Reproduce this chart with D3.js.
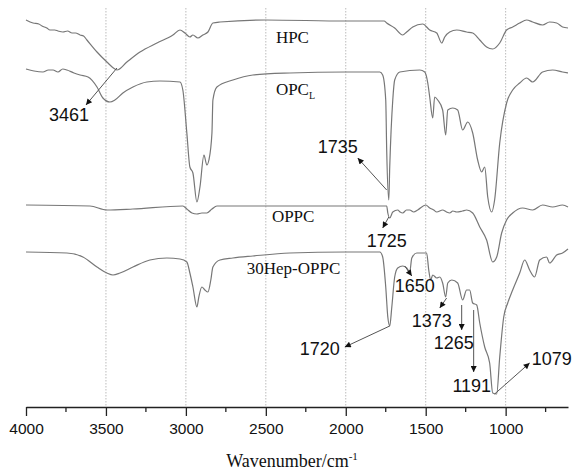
<!DOCTYPE html>
<html>
<head>
<meta charset="utf-8">
<script src="https://cdn.jsdelivr.net/npm/d3@7"></script>
<style>
  body { margin: 0; background: #fff; }
</style>
</head>
<body>
<div id="chart-container"></div>
<script>
// Spectra: [wavenumber (cm-1), stacked transmittance (a.u.)]
const hpc = [[4000,387],[3956,384],[3920,383],[3900,381],[3870,379],[3850,377],[3820,377],[3800,376],[3769,375],[3740,376],[3712,374],[3690,374],[3662,372],[3640,371],[3619,367],[3556,355],[3494,345],[3444,338],[3431,337],[3369,345],[3287,355],[3181,364],[3081,372],[3037,377],[3006,374],[2975,370],[2956,372],[2925,369],[2894,372],[2862,375],[2831,384],[2787,385],[2500,387],[2000,386],[1760,386],[1744,384],[1694,379],[1644,372],[1619,375],[1581,380],[1519,383],[1475,377],[1431,374],[1400,364],[1381,370],[1350,375],[1306,377],[1244,375],[1206,374],[1162,367],[1119,360],[1081,358],[1037,364],[994,377],[956,380],[912,384],[869,387],[831,385],[769,382],[725,385],[681,384],[644,380],[610,379]];

const opcL = [[4000,338],[3950,336],[3894,335],[3860,337],[3831,337],[3800,335],[3770,338],[3744,337],[3700,334],[3662,332],[3612,330],[3556,320],[3519,309],[3475,305],[3444,307],[3394,314],[3331,320],[3244,325],[3162,326],[3037,325],[3019,317],[2994,274],[2975,240],[2956,234],[2931,205],[2912,220],[2887,252],[2869,242],[2856,247],[2837,274],[2831,307],[2806,320],[2706,327],[2581,332],[2350,334],[2000,335],[1787,335],[1769,332],[1750,307],[1744,257],[1731,207],[1725,240],[1706,307],[1694,327],[1662,335],[1537,337],[1506,335],[1487,324],[1475,310],[1456,289],[1444,310],[1425,307],[1394,297],[1375,272],[1362,297],[1331,299],[1300,297],[1269,277],[1237,285],[1206,274],[1175,247],[1150,235],[1131,240],[1112,210],[1087,195],[1069,207],[1037,264],[994,304],[956,317],[912,324],[869,329],[831,325],[769,335],[706,337],[644,335],[610,334]];

const oppc = [[4000,202],[3600,201],[3494,197],[3331,198],[3019,201],[2994,198],[2962,194],[2931,193],[2900,194],[2869,194],[2837,198],[2806,201],[2000,201],[1744,201],[1737,194],[1725,189],[1706,195],[1675,197],[1660,195],[1644,194],[1620,197],[1600,197],[1575,195],[1550,197],[1500,202],[1475,199],[1450,197],[1431,195],[1394,197],[1370,195],[1350,194],[1330,196],[1306,195],[1270,196],[1244,197],[1206,194],[1162,180],[1119,167],[1081,145],[1056,150],[1025,174],[994,187],[956,194],[894,199],[831,197],[769,202],[706,200],[644,202],[610,200]];

const hep30 = [[4000,155],[3744,154],[3644,150],[3556,140],[3494,134],[3456,132],[3412,134],[3331,140],[3225,147],[3119,149],[3037,148],[2994,145],[2975,134],[2956,120],[2931,100],[2919,110],[2900,120],[2881,117],[2862,115],[2844,127],[2831,140],[2787,147],[2706,149],[2581,151],[2350,154],[2000,155],[1787,155],[1769,150],[1750,120],[1737,90],[1725,81],[1712,100],[1694,130],[1675,139],[1644,141],[1619,139],[1600,135],[1587,149],[1556,154],[1494,154],[1481,137],[1469,127],[1456,132],[1431,129],[1412,130],[1394,124],[1375,110],[1362,124],[1337,127],[1300,124],[1269,107],[1244,117],[1225,117],[1206,104],[1181,102],[1162,84],[1131,60],[1100,44],[1081,14],[1056,13],[1037,50],[1012,90],[987,104],[956,117],[912,134],[881,147],[850,137],[819,130],[787,147],[744,150],[725,144],[681,152],[644,154],[610,158]];

const majorTicks = [4000, 3500, 3000, 2500, 2000, 1500, 1000];
const minorTicks = [3750, 3250, 2750, 2250, 1750, 1250, 750];

// Sample names: [text, subscript, wavenumber, value]
const sampleLabels = [
    ["HPC", "", 2437, 364],
    ["OPC", "L", 2437, 312],
    ["OPPC", "", 2462, 185],
    ["30Hep-OPPC", "", 2619, 133]
];

// Band assignments: [text, fromW, fromV, toW, toV, textW, textV, anchor]
const bands = [
    ["3461", 3431, 339, 3625, 302, 3606, 286, "end"],
    ["1735", 1744, 217, 1925, 249, 1925, 254, "end"],
    ["1725", 1731, 190, 1769, 179, 1744, 160, "middle"],
    ["1650", 1631, 141, 1587, 131, 1569, 115, "middle"],
    ["1373", 1369, 109, 1412, 99, 1462, 80, "middle"],
    ["1265", 1275, 102, 1275, 77, 1325, 58, "middle"],
    ["1191", 1200, 97, 1200, 35, 1212, 15, "middle"],
    ["1079", 1069, 13, 850, 44, 837, 42, "start"],
    ["1720", 1725, 81, 2006, 60, 2037, 52, "end"]
];

const width = 576;
const height = 474;
const axisY = 407;

const x = d3.scaleLinear()
    .domain([4000, 610])
    .range([26, 568]);

const y = d3.scaleLinear()
    .domain([0, 400])
    .range([axisY, 7]);

const svg = d3.select("#chart-container").append("svg")
    .attr("width", width)
    .attr("height", height);

svg.append("defs").append("marker")
    .attr("id", "head")
    .attr("viewBox", "0 0 10 10")
    .attr("refX", 10)
    .attr("refY", 5)
    .attr("markerWidth", 9)
    .attr("markerHeight", 6)
    .attr("markerUnits", "userSpaceOnUse")
    .attr("orient", "auto")
    .append("path")
    .attr("d", "M0,0 L10,5 L0,10 Z")
    .attr("fill", "#111");

// dotted grid
svg.append("g")
    .selectAll("line")
    .data(majorTicks.slice(1))
    .join("line")
    .attr("x1", d => x(d))
    .attr("x2", d => x(d))
    .attr("y1", 8)
    .attr("y2", axisY)
    .attr("stroke", "#bbb")
    .attr("stroke-width", 1)
    .attr("stroke-dasharray", "1.5,1.5");

// spectra
const line = d3.line()
    .x(d => x(d[0]))
    .y(d => y(d[1]))
    .curve(d3.curveMonotoneX);

svg.append("g")
    .selectAll("path")
    .data([hpc, opcL, oppc, hep30].map(s => s.slice().sort((a, b) => a[0] - b[0])))
    .join("path")
    .attr("d", line)
    .attr("fill", "none")
    .attr("stroke", "#777")
    .attr("stroke-width", 1.2);

// x axis
const xAxis = svg.append("g")
    .attr("transform", `translate(0, ${axisY})`)
    .call(d3.axisBottom(x).tickValues(majorTicks).tickSize(9).tickSizeOuter(0).tickFormat(d3.format("d")));
xAxis.select(".domain").attr("stroke", "#222").attr("stroke-width", 1.3);
xAxis.selectAll(".tick line").attr("stroke", "#222").attr("stroke-width", 1.3);
xAxis.selectAll(".tick text")
    .attr("y", 16)
    .attr("font-family", "Liberation Sans, Arial, sans-serif")
    .attr("font-size", 15.5)
    .attr("fill", "#111");

xAxis.selectAll(".minor")
    .data(minorTicks)
    .join("line")
    .attr("class", "minor")
    .attr("x1", d => x(d))
    .attr("x2", d => x(d))
    .attr("y1", 0)
    .attr("y2", 5)
    .attr("stroke", "#222")
    .attr("stroke-width", 1.3);

const title = svg.append("text")
    .attr("x", 292)
    .attr("y", 467)
    .attr("text-anchor", "middle")
    .attr("font-family", "Liberation Serif, Times New Roman, serif")
    .attr("font-size", 18)
    .attr("fill", "#111");
title.append("tspan").text("Wavenumber/cm");
title.append("tspan").attr("dy", -7).attr("font-size", 11).text("-1");

// sample names
sampleLabels.forEach(d => {
    const t = svg.append("text")
        .attr("x", x(d[2]))
        .attr("y", y(d[3]))
        .attr("font-family", "Liberation Serif, Times New Roman, serif")
        .attr("font-size", 17)
        .attr("fill", "#111")
        .text(d[0]);
    if (d[1]) {
        t.append("tspan").attr("dy", 4).attr("font-size", 10).text(d[1]);
    }
});

// band arrows and numbers
const bandG = svg.append("g");
bandG.selectAll("line")
    .data(bands)
    .join("line")
    .attr("x1", d => x(d[1]))
    .attr("y1", d => y(d[2]))
    .attr("x2", d => x(d[3]))
    .attr("y2", d => y(d[4]))
    .attr("stroke", "#555")
    .attr("stroke-width", 1)
    .attr("marker-end", "url(#head)");

bandG.selectAll("text")
    .data(bands)
    .join("text")
    .attr("x", d => x(d[5]))
    .attr("y", d => y(d[6]))
    .attr("text-anchor", d => d[7])
    .attr("font-family", "Liberation Sans, Arial, sans-serif")
    .attr("font-size", 18)
    .attr("fill", "#111")
    .text(d => d[0]);
</script>
</body>
</html>
